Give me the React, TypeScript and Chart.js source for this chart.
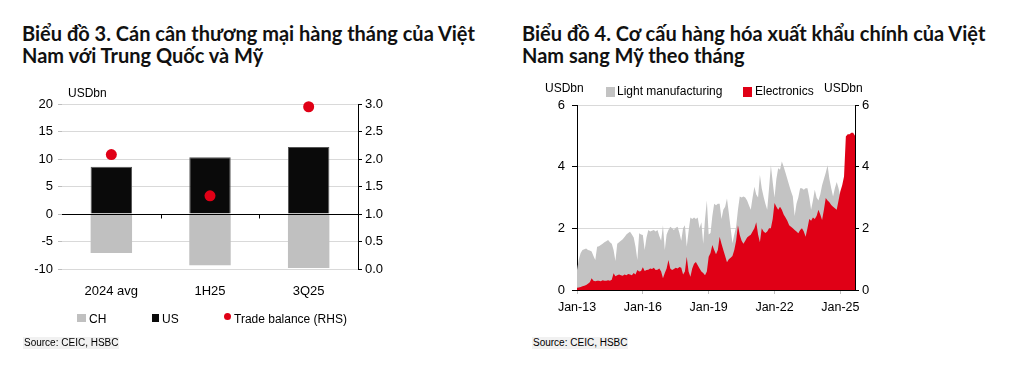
import React, { useEffect, useRef } from 'react';
import { Chart, registerables } from 'chart.js';

Chart.register(...registerables);

const FONT = '"Liberation Sans", Arial, sans-serif';
const TITLE_FONT = 'Lato, "Noto Sans", sans-serif';

// ---- Chart 3 data ----
const balanceCategories = ['2024 avg', '1H25', '3Q25'];
const chValues = [-7.1, -9.3, -9.8];
const usValues = [8.6, 10.3, 12.2];
const tradeBalance = [2.08, 1.33, 2.95];

// ---- Chart 4 data (monthly, Jan-13 .. Sep-25) ----
const MONTHS = ['Jan', 'Feb', 'Mar', 'Apr', 'May', 'Jun', 'Jul', 'Aug', 'Sep', 'Oct', 'Nov', 'Dec'];
const monthCount = 153;
const monthLabels = Array.from({ length: monthCount }, (_, i) => `${MONTHS[i % 12]}-${13 + Math.floor(i / 12)}`);
const shownMonthTicks = ['Jan-13', 'Jan-16', 'Jan-19', 'Jan-22', 'Jan-25'];

const lightManufacturing = [
  0.65, 1.0, 1.2, 1.3, 1.32, 1.35, 1.3, 1.28, 1.25, 1.1, 0.97, 1.4,
  1.42, 1.46, 1.5, 1.55, 1.58, 1.62, 1.55, 1.5, 1.3, 0.94, 1.5, 1.55,
  1.6, 1.65, 1.72, 1.8, 1.85, 1.89, 1.8, 1.7, 1.4, 0.97, 1.84, 1.8,
  1.78, 1.3, 1.7, 1.95, 1.9, 1.92, 1.95, 1.9, 1.95, 1.75, 1.6, 2.1,
  1.3, 1.8, 1.95, 2.05, 2.0, 1.95, 2.02, 2.05, 1.85, 1.6, 2.0, 2.1,
  1.4, 1.9, 2.35, 2.3, 2.35, 2.3, 2.35, 2.0, 2.2, 1.5, 2.3, 2.9,
  1.8, 1.85, 2.4, 2.8, 2.75, 2.8, 2.8, 2.3, 2.6, 2.7, 2.97, 2.5,
  2.0, 1.52, 1.8, 2.05, 2.6, 3.03, 3.0, 3.03, 3.0, 2.9, 2.75, 2.6,
  3.0, 3.35, 3.1, 3.0, 3.73, 3.3, 3.03, 2.8, 2.6, 3.3, 4.05, 3.5,
  3.0, 3.6, 3.95, 3.9, 4.17, 4.0, 3.8, 3.6, 3.4, 3.2, 3.03, 2.4,
  2.8, 3.0, 3.3, 3.3, 3.25, 3.3, 3.3, 3.0, 2.6, 2.9, 3.25, 3.0,
  2.9, 3.1, 3.4, 3.6, 3.8, 4.05, 3.6, 3.3, 3.03, 3.3, 3.5, 3.3,
  3.03, 3.3, 3.5, 3.6, 3.5, 3.5, 3.6, 3.5, 3.4,
];

const electronics = [
  0.07, 0.08, 0.1, 0.12, 0.14, 0.16, 0.2, 0.25, 0.38, 0.3, 0.28, 0.3,
  0.3, 0.28, 0.32, 0.3, 0.3, 0.32, 0.3, 0.33, 0.54, 0.45, 0.48, 0.5,
  0.48, 0.46, 0.5, 0.48, 0.52, 0.5, 0.48, 0.55, 0.5, 0.65, 0.6, 0.62,
  0.74, 0.62, 0.65, 0.66, 0.7, 0.68, 0.72, 0.65, 0.66, 0.7, 0.6, 0.38,
  0.55, 0.7, 0.97, 0.7, 0.65, 0.68, 0.72, 0.7, 0.75, 0.72, 0.5, 0.6,
  1.08, 0.6, 0.43, 0.7, 0.85, 0.91, 0.8, 0.7, 0.6, 0.55, 0.48, 0.6,
  1.08, 1.2, 1.46, 1.3, 1.16, 1.3, 1.73, 1.5, 1.3, 1.1, 0.9, 1.0,
  1.05, 1.1, 1.3, 1.6, 2.1, 1.78, 1.6, 1.5, 1.6, 1.7, 1.75, 1.79,
  1.9, 2.0, 2.2, 1.8, 1.55, 2.0, 1.9, 1.85, 1.9, 2.0, 2.0, 2.3,
  2.82, 2.7, 2.6, 2.7, 2.6, 2.45, 2.35, 2.25, 2.1, 2.05, 2.0, 1.95,
  1.9, 1.84, 1.95, 2.0, 1.9, 1.73, 2.0, 2.3, 2.25, 2.35, 2.3, 2.4,
  2.6, 2.45, 2.27, 2.6, 2.98, 2.9, 2.85, 2.76, 2.7, 2.65, 2.6, 2.9,
  3.2, 3.4, 3.68, 4.98, 5.05, 5.05, 5.1, 5.1, 5.0,
];

const RED = '#e00016';
const GREY = '#c3c3c3';

const zeroLinePlugin = {
  id: 'zeroLine',
  afterDatasetsDraw(chart: any) {
    const { ctx, chartArea, scales } = chart;
    const x = scales.x;
    const y = scales.y;
    const y0 = Math.round(y.getPixelForValue(0)) + 0.5;
    ctx.save();
    ctx.strokeStyle = '#000';
    ctx.lineWidth = 1;
    ctx.beginPath();
    ctx.moveTo(chartArea.left, y0);
    ctx.lineTo(chartArea.right, y0);
    const n = chart.data.labels.length;
    for (let i = 1; i < n; i++) {
      const bx = Math.round((x.getPixelForValue(i - 1) + x.getPixelForValue(i)) / 2) + 0.5;
      ctx.moveTo(bx, y0);
      ctx.lineTo(bx, y0 + 4);
    }
    ctx.stroke();
    ctx.restore();
  },
};

function BalanceChart() {
  const ref = useRef<HTMLCanvasElement | null>(null);
  useEffect(() => {
    if (!ref.current) return;
    const tickFont = { family: FONT, size: 13 };
    const chart = new Chart(ref.current, {
      type: 'bar',
      data: {
        labels: balanceCategories,
        datasets: [
          {
            type: 'line',
            label: 'Trade balance (RHS)',
            data: tradeBalance,
            yAxisID: 'y1',
            showLine: false,
            pointRadius: 5.5,
            pointBackgroundColor: RED,
            pointBorderWidth: 0,
            borderColor: RED,
            clip: false,
            order: 0,
          } as any,
          {
            label: 'CH',
            data: chValues,
            backgroundColor: '#c0c0c0',
            stack: 's',
            barPercentage: 0.42,
            categoryPercentage: 1,
            order: 1,
          },
          {
            label: 'US',
            data: usValues,
            backgroundColor: '#0a0a0a',
            borderColor: '#555',
            borderWidth: 1,
            stack: 's',
            barPercentage: 0.42,
            categoryPercentage: 1,
            order: 1,
          },
        ],
      },
      options: {
        responsive: false,
        animation: false,
        layout: { padding: { left: 12, right: 100, top: 104, bottom: 84 } },
        plugins: { legend: { display: false }, tooltip: { enabled: false } },
        scales: {
          x: {
            stacked: true,
            grid: { display: false },
            border: { display: false },
            ticks: { font: tickFont, color: '#000', padding: 7, maxRotation: 0 },
            afterFit: (s: any) => { s.height = 30; },
          },
          y: {
            stacked: true,
            min: -10,
            max: 20,
            ticks: { stepSize: 5, font: tickFont, color: '#000', padding: 5 },
            grid: { color: '#d9d9d9', tickColor: '#bdbdbd', tickLength: 4 },
            border: { display: false },
            afterFit: (s: any) => { s.width = 50; },
          },
          y1: {
            position: 'right',
            min: 0,
            max: 3,
            ticks: { stepSize: 0.5, font: tickFont, color: '#000', padding: 3, callback: (v: any) => Number(v).toFixed(1) },
            grid: { drawOnChartArea: false, tickColor: '#000', tickLength: 4 },
            border: { display: true, color: '#000' },
            afterFit: (s: any) => { s.width = 50; },
          },
        },
      } as any,
      plugins: [zeroLinePlugin],
    });
    return () => chart.destroy();
  }, []);
  return <canvas ref={ref} width={508} height={383} style={{ position: 'absolute', left: 0, top: 0, width: 508, height: 383 }} />;
}

function ExportsChart() {
  const ref = useRef<HTMLCanvasElement | null>(null);
  useEffect(() => {
    if (!ref.current) return;
    const tickFont = { family: FONT, size: 13 };
    const chart = new Chart(ref.current, {
      type: 'line',
      data: {
        labels: monthLabels,
        datasets: [
          {
            label: 'Electronics',
            data: electronics,
            fill: 'origin',
            backgroundColor: RED,
            borderColor: 'rgba(0,0,0,0)',
            borderWidth: 0,
            pointRadius: 0,
            tension: 0,
            order: 0,
          },
          {
            label: 'Light manufacturing',
            data: lightManufacturing,
            fill: 'origin',
            backgroundColor: GREY,
            borderColor: 'rgba(0,0,0,0)',
            borderWidth: 0,
            pointRadius: 0,
            tension: 0,
            order: 1,
          },
        ],
      },
      options: {
        responsive: false,
        animation: false,
        layout: { padding: { left: 10, right: 100, top: 105, bottom: 63 } },
        plugins: { legend: { display: false }, tooltip: { enabled: false } },
        scales: {
          x: {
            offset: false,
            grid: { drawOnChartArea: false, drawTicks: true, tickLength: 4, color: '#bfbfbf' },
            border: { display: true, color: '#000' },
            ticks: {
              autoSkip: false,
              maxRotation: 0,
              font: { family: FONT, size: 12.5 },
              color: '#000',
              padding: 6,
              callback: (v: any) => monthLabels[v],
            },
            afterBuildTicks: (s: any) => {
              s.ticks = s.ticks.filter((t: any) => shownMonthTicks.includes(monthLabels[t.value]));
            },
            afterFit: (s: any) => { s.height = 30; },
          },
          y: {
            min: 0,
            max: 6,
            ticks: { stepSize: 2, font: tickFont, color: '#000', padding: 7 },
            grid: { color: '#d9d9d9', tickColor: '#000', tickLength: 5 },
            border: { display: true, color: '#000' },
            afterFit: (s: any) => { s.width = 59; },
          },
          y1: {
            position: 'right',
            min: 0,
            max: 6,
            ticks: { stepSize: 2, font: tickFont, color: '#000', padding: 3 },
            grid: { drawOnChartArea: false, tickColor: '#000', tickLength: 4 },
            border: { display: true, color: '#000' },
            afterFit: (s: any) => { s.width = 61; },
          },
        },
      } as any,
    });
    return () => chart.destroy();
  }, []);
  return <canvas ref={ref} width={508} height={383} style={{ position: 'absolute', left: 508, top: 0, width: 508, height: 383 }} />;
}

const txt = (left: number, top: number, size = 12): React.CSSProperties => ({
  position: 'absolute',
  left,
  top,
  fontFamily: FONT,
  fontSize: size,
  lineHeight: `${size + 2}px`,
  color: '#000',
  whiteSpace: 'nowrap',
});

const sq = (left: number, top: number, w: number, h: number, bg: string): React.CSSProperties => ({
  position: 'absolute', left, top, width: w, height: h, background: bg,
});

const titleStyle = (left: number): React.CSSProperties => ({
  position: 'absolute',
  left,
  top: 22,
  fontFamily: TITLE_FONT,
  fontWeight: 700,
  fontSize: 20,
  lineHeight: '22px',
  color: '#111',
  whiteSpace: 'nowrap',
});

export default function App() {
  return (
    <div style={{ position: 'absolute', left: 0, top: 0, width: 1016, height: 383, background: '#fff', overflow: 'hidden' }}>
      <div style={titleStyle(22)}>
        Biểu đồ 3. Cán cân thương mại hàng tháng của Việt<br />Nam với Trung Quốc và Mỹ
      </div>
      <div style={titleStyle(522)}>
        Biểu đồ 4. Cơ cấu hàng hóa xuất khẩu chính của Việt<br />Nam sang Mỹ theo tháng
      </div>

      <BalanceChart />
      <ExportsChart />

      {/* Chart 3 labels & legend */}
      <div style={txt(68, 86)}>USDbn</div>
      <div style={sq(77, 314, 9, 8, '#c0c0c0')} />
      <div style={txt(89, 312)}>CH</div>
      <div style={sq(152, 314, 7, 8, '#0a0a0a')} />
      <div style={txt(162, 312)}>US</div>
      <div style={{ position: 'absolute', left: 224, top: 313, width: 7, height: 7, borderRadius: '50%', background: RED }} />
      <div style={txt(234, 312)}>Trade balance (RHS)</div>
      <div style={{ ...txt(23, 337, 10), background: '#f1f1f1', padding: '0 1px' }}>Source: CEIC, HSBC</div>

      {/* Chart 4 labels & legend */}
      <div style={txt(545, 81)}>USDbn</div>
      <div style={sq(606, 87, 9, 10, GREY)} />
      <div style={txt(617, 84)}>Light manufacturing</div>
      <div style={sq(743, 87, 9, 10, RED)} />
      <div style={txt(755, 84)}>Electronics</div>
      <div style={txt(824, 81)}>USDbn</div>
      <div style={{ ...txt(532, 337, 10), background: '#f1f1f1', padding: '0 1px' }}>Source: CEIC, HSBC</div>
    </div>
  );
}
